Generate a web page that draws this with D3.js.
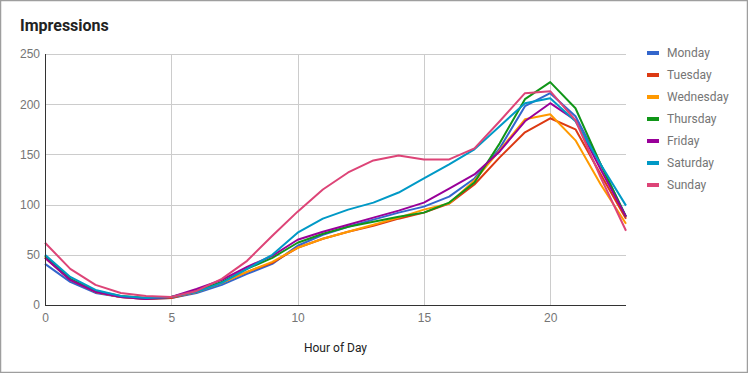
<!DOCTYPE html>
<html>
<head>
<meta charset="utf-8">
<script src="https://cdnjs.cloudflare.com/ajax/libs/d3/7.8.5/d3.min.js"></script>
<style>
  body { margin: 0; background: #fff; }
  svg { display: block; font-family: Roboto, Arial, sans-serif; }
  .t_title { font-size: 16px; font-weight: bold; fill: #222; }
  .tick text { font-size: 12px; fill: #757575; }
  .t_axis { font-size: 12px; fill: #222; }
  .legends-text { font-size: 12px; fill: #757575; }
</style>
</head>
<body>
<svg width="748" height="373"></svg>
<script>
/* ----------------------------------------------------------
data
---------------------------------------------------------- */

var hours = d3.range(0, 24);
var xTicks = [0, 5, 10, 15, 20];
var yTicks = [0, 50, 100, 150, 200, 250];

var days = ["Monday", "Tuesday", "Wednesday", "Thursday", "Friday", "Saturday", "Sunday"];
var colors = ["#3366cc", "#dc3912", "#ff9900", "#109618", "#990099", "#0099c6", "#dd4477"];

var monday    = [41, 23, 12, 8, 6, 7, 12, 20, 31, 41, 59, 70, 78, 85, 92, 98, 108, 126, 156, 198, 211, 188, 140, 88];
var tuesday   = [47, 25, 13, 8, 6, 7, 13, 22, 33, 42, 57, 66, 73, 79, 86, 92, 101, 120, 147, 172, 186, 175, 130, 86];
var wednesday = [48, 26, 13, 8, 7, 8, 13, 22, 33, 43, 57, 66, 73, 80, 87, 95, 101, 124, 154, 185, 190, 164, 120, 81];
var thursday  = [49, 26, 14, 9, 7, 8, 14, 23, 36, 47, 62, 71, 78, 83, 88, 92, 102, 122, 161, 205, 222, 196, 140, 88];
var friday    = [47, 25, 13, 8, 6, 8, 16, 25, 38, 49, 65, 73, 80, 87, 94, 102, 116, 130, 153, 183, 201, 184, 135, 88];
var saturday  = [50, 28, 15, 9, 7, 8, 13, 22, 36, 50, 72, 86, 95, 102, 112, 126, 140, 155, 178, 201, 206, 183, 140, 99];
var sunday    = [62, 36, 20, 12, 9, 8, 14, 26, 44, 69, 93, 115, 132, 144, 149, 145, 145, 156, 183, 211, 213, 184, 127, 74];

var series = [monday, tuesday, wednesday, thursday, friday, saturday, sunday];

/* ----------------------------------------------------------
prepare
---------------------------------------------------------- */

var svg = d3.select("svg");

// frame
svg.append("rect")
  .attr("x", 0.5).attr("y", 0.5)
  .attr("width", 747).attr("height", 372)
  .attr("fill", "#fff")
  .attr("stroke", "#9e9e9e")
  .attr("stroke-width", 1.5);

svg.append("text")
  .attr("class", "t_title")
  .attr("x", 20).attr("y", 31)
  .text("Impressions");

var x = d3.scaleLinear().domain([0, 23]).range([45, 626]);
var y = d3.scaleLinear().domain([0, 250]).range([305, 54]);

// grid
var grid = svg.append("g");
grid.selectAll(".hgrid")
  .data(yTicks.slice(1)).enter().append("line")
  .attr("x1", x(0)).attr("x2", x(23))
  .attr("y1", d => Math.round(y(d)) + 0.5).attr("y2", d => Math.round(y(d)) + 0.5)
  .attr("stroke", "#cccccc");
grid.selectAll(".vgrid")
  .data(xTicks.slice(1)).enter().append("line")
  .attr("y1", y(0)).attr("y2", y(250))
  .attr("x1", d => Math.round(x(d)) + 0.5).attr("x2", d => Math.round(x(d)) + 0.5)
  .attr("stroke", "#cccccc");

// axes
var xAxis = svg.append("g")
  .attr("transform", "translate(0," + y(0) + ")")
  .call(d3.axisBottom(x).tickValues(xTicks).tickSize(0).tickPadding(8));
var yAxis = svg.append("g")
  .attr("transform", "translate(" + x(0) + ",0)")
  .call(d3.axisLeft(y).tickValues(yTicks).tickSize(0).tickPadding(5));
xAxis.select(".domain").remove();
yAxis.select(".domain").remove();

// lines
var line = d3.line()
  .x((d, i) => x(hours[i]))
  .y(d => y(d));

svg.append("g").selectAll("path")
  .data(series).enter().append("path")
  .attr("d", d => line(d))
  .attr("fill", "none")
  .attr("stroke", (d, i) => colors[i])
  .attr("stroke-width", 2)
  .attr("stroke-linejoin", "round");

// baseline + left axis line
svg.append("line")
  .attr("x1", x(0)).attr("x2", x(23))
  .attr("y1", y(0) + 0.5).attr("y2", y(0) + 0.5)
  .attr("stroke", "#333");
svg.append("line")
  .attr("x1", x(0) + 0.5).attr("x2", x(0) + 0.5)
  .attr("y1", y(0)).attr("y2", y(250))
  .attr("stroke", "#333");

svg.append("text")
  .attr("class", "t_axis")
  .attr("x", (x(0) + x(23)) / 2).attr("y", 352)
  .attr("text-anchor", "middle")
  .text("Hour of Day");

// legend
var legs = svg.append("g")
  .attr("transform", "translate(647,53)")
  .selectAll(".legends")
  .data(days).enter().append("g")
  .attr("class", "legends")
  .attr("transform", (d, i) => "translate(0," + i * 22 + ")");

legs.append("rect")
  .attr("x", 0).attr("y", -2)
  .attr("width", 12).attr("height", 4)
  .attr("fill", (d, i) => colors[i]);

legs.append("text")
  .attr("class", "legends-text")
  .attr("x", 20).attr("y", 4)
  .text(d => d);
</script>
</body>
</html>
